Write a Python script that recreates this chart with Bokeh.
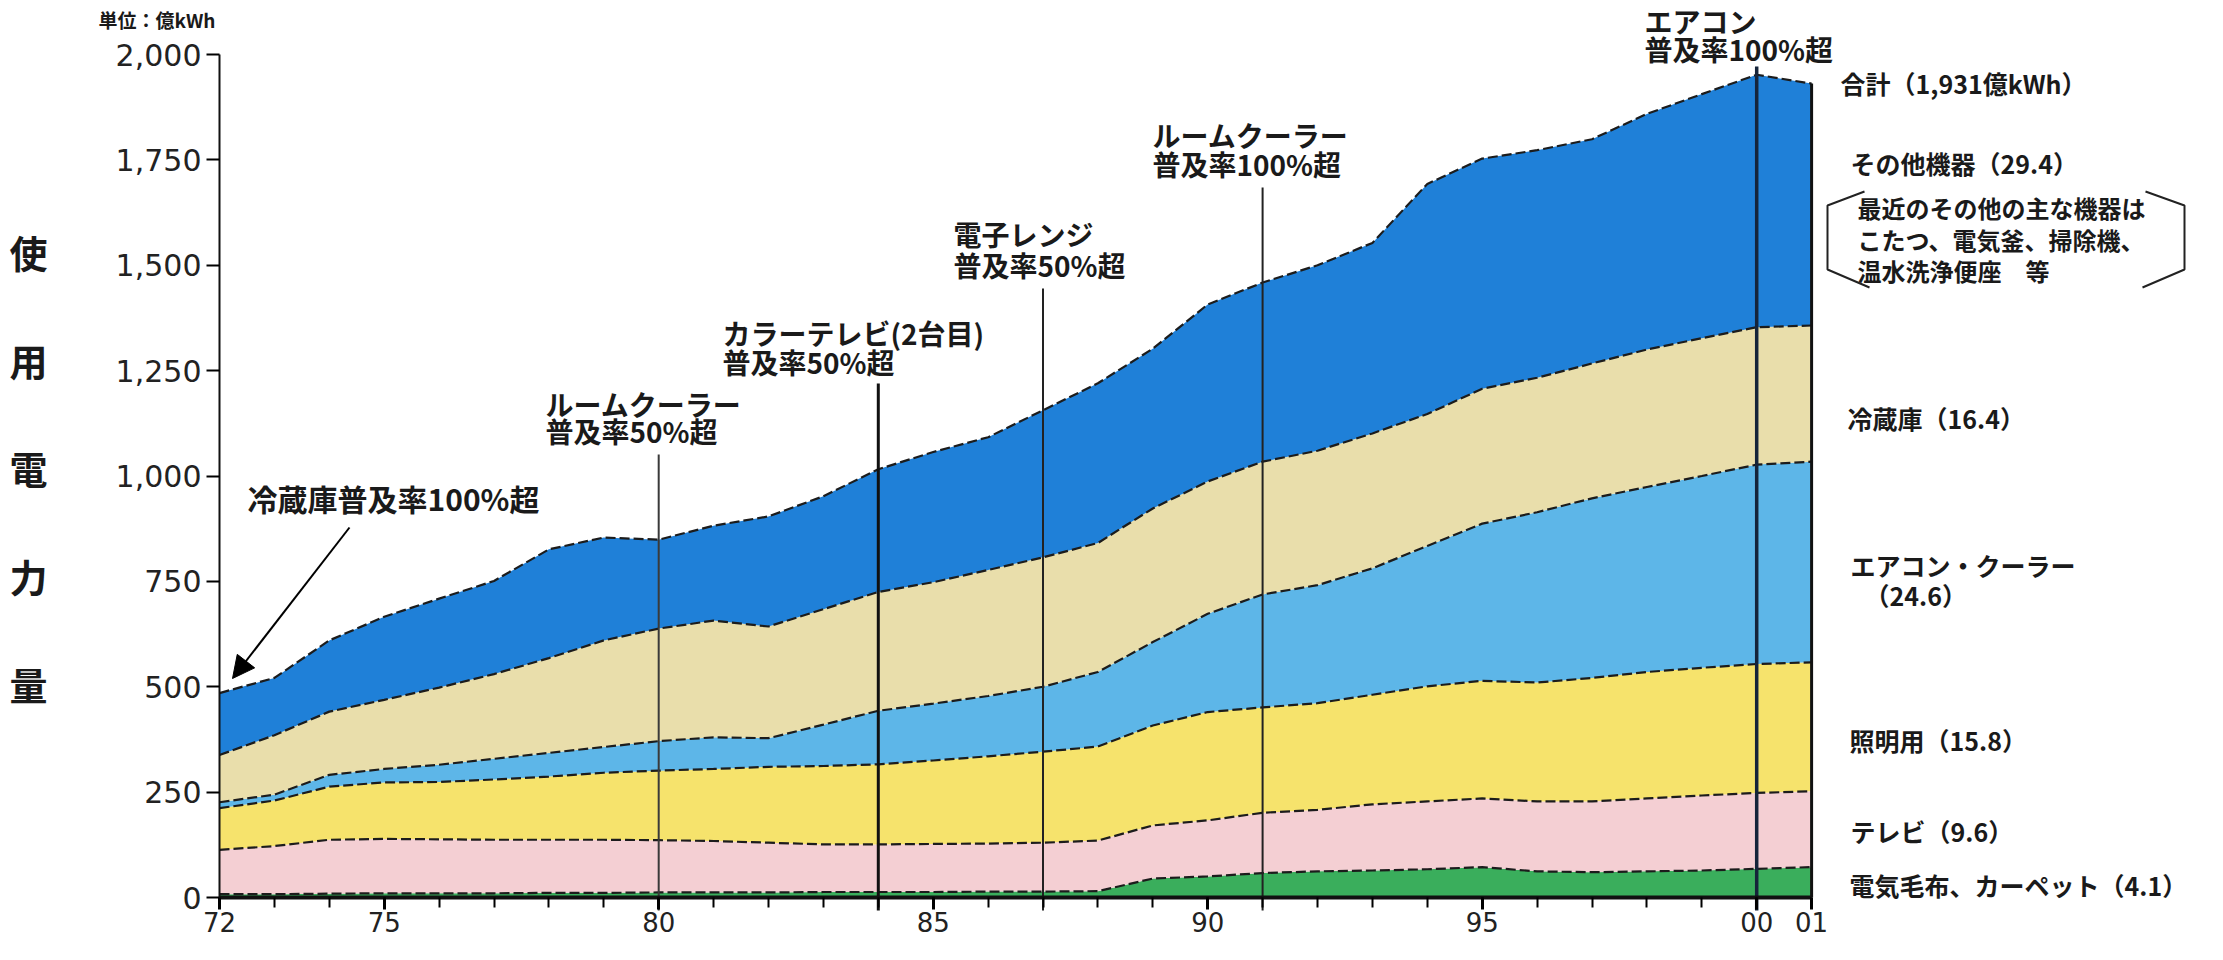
from bokeh.plotting import figure
from bokeh.models import (Range1d, LinearAxis, FixedTicker, NumeralTickFormatter,
                          ColumnDataSource, Label, Arrow, NormalHead)
from bokeh.core.properties import value
from bokeh.embed import file_html
from bokeh.resources import INLINE

# ---------------- data (億kWh) ----------------
years = list(range(1972, 2002))
blanket = [8, 8, 9, 10, 10, 10, 11, 11, 12, 12, 12, 13, 13, 13, 14, 14, 15, 45, 50, 58,
           62, 64, 67, 72, 62, 60, 62, 64, 68, 72]
tv = [105, 114, 128, 129, 128, 127, 126, 126, 124, 122, 118, 113, 113, 114, 114, 116, 120,
      126, 133, 143, 146, 157, 161, 163, 166, 168, 173, 178, 180, 180]
lighting = [99, 108, 126, 134, 136, 143, 150, 159, 165, 171, 180, 186, 190, 198, 207, 216,
            223, 237, 257, 250, 253, 260, 273, 279, 282, 293, 300, 303, 306, 306]
aircon = [14, 14, 28, 32, 41, 49, 56, 61, 70, 75, 68, 98, 127, 135, 143, 154, 177, 198, 233,
          268, 280, 300, 333, 373, 404, 426, 439, 455, 473, 476]
fridge = [112, 141, 150, 164, 183, 201, 225, 253, 267, 277, 265, 274, 282, 288, 299, 307, 306,
          317, 314, 315, 319, 320, 313, 320, 319, 320, 326, 327, 326, 323]
other = [147, 136, 169, 197, 211, 221, 258, 244, 211, 225, 261, 268, 291, 309, 315, 349, 379,
         379, 420, 425, 440, 452, 546, 546, 540, 532, 559, 579, 599, 574]

series_keys = ["blanket", "tv", "lighting", "aircon", "fridge", "other"]
series_colors = ["#3aae5c", "#f4cfd3", "#f6e36c", "#5db6e8", "#e9deab", "#1f80d8"]
series_labels = ["電気毛布、カーペット（4.1）", "テレビ（9.6）", "照明用（15.8）",
                 "エアコン・クーラー", "冷蔵庫（16.4）", "その他機器（29.4）"]

y_ticks = [0, 250, 500, 750, 1000, 1250, 1500, 1750, 2000]
x_tick_years = [1972, 1975, 1980, 1985, 1990, 1995, 2000, 2001]
x_tick_labels = ["72", "75", "80", "85", "90", "95", "00", "01"]

event_years = [1980, 1984, 1987, 1991, 2000]
event_line1 = ["ルームクーラー", "カラーテレビ(2台目)", "電子レンジ", "ルームクーラー", "エアコン"]
event_line2 = ["普及率50%超", "普及率50%超", "普及率50%超", "普及率100%超", "普及率100%超"]

# ---------------- layout ----------------
W, H = 2207, 944
PX_PER_YEAR = 54.9
PX_PER_UNIT = 0.4215
X0_PAGE, Y0_PAGE = 227, 905   # page pixel of (1972, 0)

x_start = 1972 - (X0_PAGE - 8) / PX_PER_YEAR
x_end = x_start + W / PX_PER_YEAR
y_end = (Y0_PAGE - 8) / PX_PER_UNIT
y_start = y_end - H / PX_PER_UNIT


def px(page_x):
    return 1972 + (page_x - X0_PAGE) / PX_PER_YEAR


def py(page_y):
    return (Y0_PAGE - page_y) / PX_PER_UNIT


JP = "Noto Sans CJK JP"
TXT = "#1a1a1a"

p = figure(width=W, height=H, x_range=Range1d(x_start, x_end), y_range=Range1d(y_start, y_end),
           output_backend="svg", toolbar_location=None, x_axis_location=None,
           y_axis_location=None, min_border=0)
p.outline_line_color = None
p.background_fill_color = "white"
p.border_fill_color = "white"
p.grid.visible = False

data = dict(year=years, blanket=blanket, tv=tv, lighting=lighting, aircon=aircon,
            fridge=fridge, other=other)
src = ColumnDataSource(data)

p.varea_stack(stackers=series_keys, x="year", color=series_colors, source=src)
p.vline_stack(stackers=series_keys, x="year", color="#1c1c1c", line_width=2.2,
              line_dash="10 4", source=src)

total = [sum(v) for v in zip(blanket, tv, lighting, aircon, fridge, other)]
p.segment(x0=[years[-1]], y0=[0], x1=[years[-1]], y1=[total[-1]], line_color="#111111",
          line_width=3)

# event lines
event_tops = [py(462), py(391), py(296), py(195), py(74)]
event_widths = [2, 3, 2, 2, 3.5]
event_colors = ["#3a3a3a", "#111111", "#222222", "#222222", "#15243a"]
p.segment(x0=event_years, y0=[py(918)] * len(event_years), x1=event_years, y1=event_tops,
          line_color=event_colors, line_width=event_widths)

# axes
yaxis = LinearAxis(fixed_location=1972, ticker=FixedTicker(ticks=y_ticks),
                   formatter=NumeralTickFormatter(format="0,0"), bounds=(0, 2000))
yaxis.axis_line_width = 2
yaxis.axis_line_color = "#111111"
yaxis.major_tick_out = 13
yaxis.major_tick_in = 0
yaxis.minor_tick_out = 0
yaxis.major_tick_line_width = 2
yaxis.major_label_standoff = 5
yaxis.major_label_text_font = "DejaVu Sans"
yaxis.major_label_text_font_size = "30px"
yaxis.major_label_text_color = "#222222"
p.add_layout(yaxis, "left")

xaxis = LinearAxis(fixed_location=0,
                   ticker=FixedTicker(ticks=x_tick_years, minor_ticks=years),
                   bounds=(1972, 2001))
xaxis.major_label_overrides = {y: l for y, l in zip(x_tick_years, x_tick_labels)}
xaxis.axis_line_width = 4
xaxis.axis_line_color = "#111111"
xaxis.major_tick_out = 12
xaxis.major_tick_in = 0
xaxis.minor_tick_out = 10
xaxis.minor_tick_in = 0
xaxis.major_tick_line_width = 3
xaxis.minor_tick_line_width = 2
xaxis.major_label_standoff = 2
xaxis.major_label_text_font = "DejaVu Sans"
xaxis.major_label_text_font_size = "26px"
xaxis.major_label_text_color = "#222222"
p.add_layout(xaxis, "below")

# event labels
ev_x = [px(553), px(730), px(961), px(1160), px(1652)]
ev_y1 = [py(411), py(340), py(241), py(142), py(28)]
ev_y2 = [py(438), py(369), py(272), py(171), py(56)]
p.text(x=ev_x, y=ev_y1, text=event_line1, text_font=value(JP), text_font_size="28px",
       text_font_style="bold", text_color=TXT, text_align="left", text_baseline="middle")
p.text(x=ev_x, y=ev_y2, text=event_line2, text_font=value(JP), text_font_size="28px",
       text_font_style="bold", text_color=TXT, text_align="left", text_baseline="middle")


def lab(x, y, text, size, align="left", bold=True, **kw):
    p.add_layout(Label(x=x, y=y, text=text, text_font=JP, text_font_size=size,
                       text_font_style="bold" if bold else "normal", text_color=TXT,
                       text_align=align, text_baseline="middle", **kw))


lab(px(106), py(27), "単位：億kWh", "19px")
lab(px(36), py(475), "使\n用\n電\n力\n量", "38px", align="center", text_line_height=1.96)
lab(px(255), py(505), "冷蔵庫普及率100%超", "30px")

p.add_layout(Arrow(end=NormalHead(size=22, fill_color="black", line_color="black"),
                   x_start=px(357), y_start=py(535), x_end=px(240), y_end=py(686),
                   line_color="black", line_width=2))

# right side labels
lab(px(1848), py(90), "合計（1,931億kWh）", "25px")
lab(px(1858), py(170), series_labels[5], "25px")
lab(px(1865), py(215), "最近のその他の主な機器は", "24px")
lab(px(1865), py(247), "こたつ、電気釜、掃除機、", "24px")
lab(px(1865), py(278), "温水洗浄便座　等", "24px")
lab(px(1855), py(425), series_labels[4], "25px")
lab(px(1858), py(572), series_labels[3], "25px")
lab(px(1872), py(602), "（24.6）", "25px")
lab(px(1857), py(747), series_labels[2], "25px")
lab(px(1858), py(838), series_labels[1], "25px")
lab(px(1857), py(892), series_labels[0], "25px")

# bracket around the note
bx_l = [px(1872), px(1835), px(1835), px(1877)]
bx_r = [px(2153), px(2192), px(2192), px(2150)]
by = [py(199), py(213), py(277), py(295)]
p.line(x=bx_l, y=by, line_color="#222222", line_width=2)
p.line(x=bx_r, y=by, line_color="#222222", line_width=2)

open("out.html", "w").write(file_html(p, INLINE))
